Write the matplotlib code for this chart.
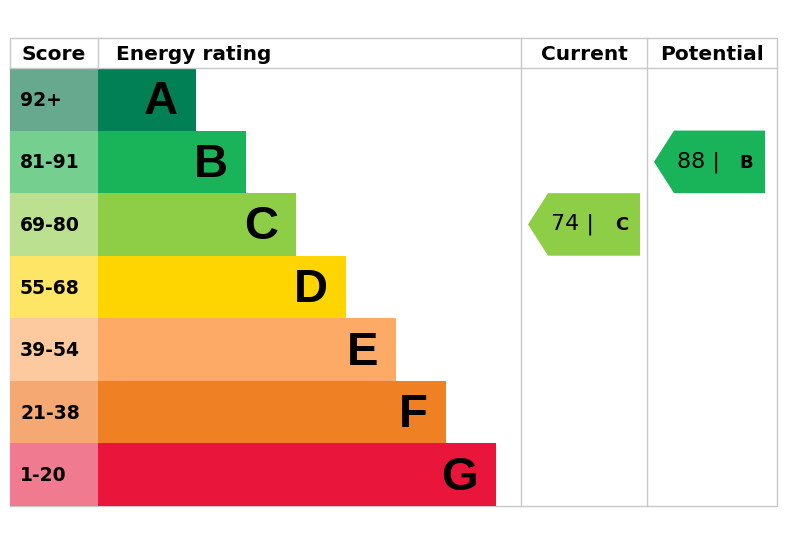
import matplotlib.pyplot as plt
from matplotlib.patches import Rectangle, Polygon

letters = ["A", "B", "C", "D", "E", "F", "G"]
ranges = ["92+", "81-91", "69-80", "55-68", "39-54", "21-38", "1-20"]
bar_colors = ["#008054", "#19b459", "#8dce46", "#ffd500", "#fcaa65", "#ef8023", "#e9153b"]
score_colors = ["#66a98f", "#75d08f", "#bbe08f", "#ffe566", "#fdc99f", "#f5a872", "#f07a8f"]
current_value, current_letter = 74, "C"
potential_value, potential_letter = 88, "B"

W, H = 786, 547
fig = plt.figure(figsize=(W / 100, H / 100), dpi=100)
ax = fig.add_axes([0, 0, 1, 1])
ax.set_xlim(0, W)
ax.set_ylim(H, 0)
ax.axis("off")

left, right, top, head, bottom = 10, 777, 38, 68, 506
score_w = 88
col1, col2 = 521, 647
row_h = (bottom - head) / len(letters)
grid = "#c8c8c8"

# frame and header
ax.add_patch(Rectangle((left, top), right - left, bottom - top, fill=False, ec=grid, lw=1))
ax.plot([left, right], [head, head], color=grid, lw=1)
for x in (left + score_w, col1, col2):
    ax.plot([x, x], [top, bottom if x != left + score_w else head], color=grid, lw=1)
hkw = dict(fontsize=14.5, fontweight="bold", va="center", family="DejaVu Sans")
ax.text(left + score_w / 2, (top + head) / 2 + 1, "Score", ha="center", **hkw)
ax.text(left + score_w + 18, (top + head) / 2 + 1, "Energy rating", ha="left", **hkw)
ax.text((col1 + col2) / 2, (top + head) / 2 + 1, "Current", ha="center", **hkw)
ax.text((col2 + right) / 2, (top + head) / 2 + 1, "Potential", ha="center", **hkw)

for i, (l, r, bc, sc) in enumerate(zip(letters, ranges, bar_colors, score_colors)):
    y0 = head + i * row_h
    ax.add_patch(Rectangle((left, y0), score_w, row_h, color=sc, lw=0))
    bw = 98 + 50 * i
    ax.add_patch(Rectangle((left + score_w, y0), bw, row_h, color=bc, lw=0))
    ax.text(left + 10, y0 + row_h / 2 + 1, r, fontsize=13.5, fontweight="bold",
            va="center", family="DejaVu Sans")
    ax.text(left + score_w + bw - 18, y0 + row_h / 2 + 3, l, fontsize=34, fontweight="bold",
            ha="right", va="center", family="Liberation Sans")


def arrow(x0, x1, letter, value):
    i = letters.index(letter)
    y0 = head + i * row_h
    y1 = y0 + row_h
    tip = 20
    ax.add_patch(Polygon([(x0, (y0 + y1) / 2), (x0 + tip, y0), (x1, y0), (x1, y1), (x0 + tip, y1)],
                         closed=True, color=bar_colors[i], lw=0))
    yc = (y0 + y1) / 2
    ax.text(x0 + 23, yc, f"{value} |", fontsize=16, va="center", family="DejaVu Sans")
    ax.text(x1 - 12, yc + 1, letter, fontsize=13, fontweight="bold", ha="right", va="center",
            family="DejaVu Sans")


arrow(528, 640, current_letter, current_value)
arrow(654, 765, potential_letter, potential_value)

fig.savefig("out.png", dpi=100)
